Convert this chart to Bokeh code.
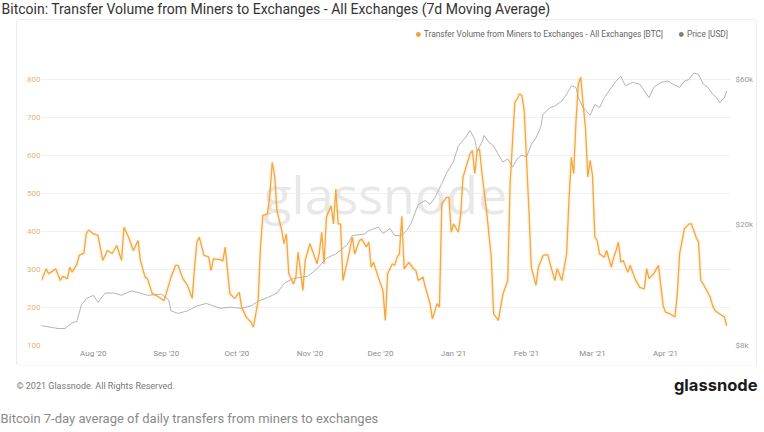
from datetime import datetime
import pandas as pd
from bokeh.plotting import figure
from bokeh.models import (Range1d, LogScale, LogAxis, FixedTicker, MonthsTicker,
                          DatetimeTickFormatter, Legend, LegendItem, Label, Spacer)
from bokeh.layouts import column, row
from bokeh.embed import file_html
from bokeh.resources import INLINE
from bokeh.core.properties import value

# ---------------- data ----------------
title_text = "Bitcoin: Transfer Volume from Miners to Exchanges - All Exchanges (7d Moving Average)"
caption_text = "Bitcoin 7-day average of daily transfers from miners to exchanges"
copyright_text = "\u00a9 2021 Glassnode. All Rights Reserved."
logo_text = "glassnode"
volume_label = "Transfer Volume from Miners to Exchanges - All Exchanges [BTC]"
price_label = "Price [USD]"

volume_dates = [
    "2020-07-10", "2020-07-12", "2020-07-13", "2020-07-15", "2020-07-16", "2020-07-18", "2020-07-19",
    "2020-07-21", "2020-07-22", "2020-07-23", "2020-07-25", "2020-07-26", "2020-07-28", "2020-07-29",
    "2020-07-30", "2020-08-01", "2020-08-03", "2020-08-05", "2020-08-07", "2020-08-09", "2020-08-11",
    "2020-08-13", "2020-08-14", "2020-08-16", "2020-08-18", "2020-08-20", "2020-08-21", "2020-08-23",
    "2020-08-24", "2020-08-26", "2020-08-29", "2020-08-31", "2020-09-01", "2020-09-03", "2020-09-05",
    "2020-09-06", "2020-09-08", "2020-09-10", "2020-09-12", "2020-09-13", "2020-09-14", "2020-09-15",
    "2020-09-17", "2020-09-19", "2020-09-20", "2020-09-21", "2020-09-24", "2020-09-25", "2020-09-26",
    "2020-09-28", "2020-09-30", "2020-10-02", "2020-10-03", "2020-10-05", "2020-10-07", "2020-10-08",
    "2020-10-10", "2020-10-11", "2020-10-12", "2020-10-14", "2020-10-15", "2020-10-16", "2020-10-17",
    "2020-10-18", "2020-10-20", "2020-10-21", "2020-10-22", "2020-10-23", "2020-10-25", "2020-10-26",
    "2020-10-27", "2020-10-29", "2020-10-30", "2020-11-01", "2020-11-04", "2020-11-05", "2020-11-06",
    "2020-11-07", "2020-11-08", "2020-11-10", "2020-11-11", "2020-11-12", "2020-11-13", "2020-11-14",
    "2020-11-15", "2020-11-17", "2020-11-19", "2020-11-20", "2020-11-21", "2020-11-22", "2020-11-23",
    "2020-11-25", "2020-11-26", "2020-11-27", "2020-11-28", "2020-11-30", "2020-12-02", "2020-12-03",
    "2020-12-04", "2020-12-06", "2020-12-07", "2020-12-08", "2020-12-09", "2020-12-10", "2020-12-11",
    "2020-12-13", "2020-12-15", "2020-12-16", "2020-12-17", "2020-12-19", "2020-12-20", "2020-12-21",
    "2020-12-22", "2020-12-23", "2020-12-25", "2020-12-26", "2020-12-27", "2020-12-29", "2020-12-30",
    "2020-12-31", "2021-01-01", "2021-01-03", "2021-01-04", "2021-01-05", "2021-01-08", "2021-01-09",
    "2021-01-10", "2021-01-11", "2021-01-12", "2021-01-13", "2021-01-15", "2021-01-17", "2021-01-18",
    "2021-01-20", "2021-01-21", "2021-01-22", "2021-01-24", "2021-01-25", "2021-01-27", "2021-01-28",
    "2021-01-29", "2021-01-30", "2021-01-31", "2021-02-01", "2021-02-02", "2021-02-03", "2021-02-05",
    "2021-02-06", "2021-02-08", "2021-02-10", "2021-02-11", "2021-02-13", "2021-02-14", "2021-02-16",
    "2021-02-18", "2021-02-19", "2021-02-20", "2021-02-21", "2021-02-22", "2021-02-23", "2021-02-24",
    "2021-02-25", "2021-02-26", "2021-02-27", "2021-02-28", "2021-03-01", "2021-03-02", "2021-03-03",
    "2021-03-04", "2021-03-06", "2021-03-07", "2021-03-09", "2021-03-10", "2021-03-11", "2021-03-12",
    "2021-03-13", "2021-03-14", "2021-03-16", "2021-03-17", "2021-03-19", "2021-03-21", "2021-03-23",
    "2021-03-24", "2021-03-25", "2021-03-27", "2021-03-29", "2021-03-31", "2021-04-01", "2021-04-03",
    "2021-04-05", "2021-04-06", "2021-04-07", "2021-04-09", "2021-04-11", "2021-04-12", "2021-04-14",
    "2021-04-15", "2021-04-16", "2021-04-17", "2021-04-20", "2021-04-21", "2021-04-22", "2021-04-24",
    "2021-04-26", "2021-04-27",
]
volume_btc = [
    271, 302, 289, 297, 302, 271, 282,
    276, 306, 293, 313, 337, 343, 394,
    404, 394, 390, 324, 350, 342, 363,
    324, 411, 385, 350, 376, 324, 280,
    276, 237, 227, 218, 237, 280, 311,
    311, 276, 258, 224, 306, 372, 385,
    337, 333, 297, 328, 326, 322, 359,
    236, 224, 240, 201, 174, 161, 148,
    218, 359, 442, 447, 499, 582, 547,
    455, 403, 368, 394, 289, 262, 280,
    345, 245, 324, 368, 315, 345, 398,
    315, 438, 468, 420, 512, 420, 420,
    271, 324, 385, 341, 359, 376, 380,
    359, 372, 306, 319, 280, 245, 166,
    289, 315, 311, 332, 341, 440, 302,
    319, 302, 297, 271, 280, 253, 232,
    210, 170, 210, 201, 473, 490, 490,
    398, 420, 398, 442, 543, 604, 613,
    552, 613, 617, 556, 455, 332, 183,
    166, 201, 236, 271, 525, 740, 749,
    762, 758, 718, 587, 455, 306, 258,
    306, 337, 339, 315, 271, 302, 271,
    341, 482, 595, 552, 692, 789, 806,
    736, 674, 543, 587, 547, 385, 376,
    341, 332, 350, 306, 332, 350, 372,
    319, 324, 293, 311, 276, 253, 249,
    302, 276, 289, 311, 205, 188, 183,
    175, 236, 341, 407, 420, 420, 385,
    372, 271, 262, 227, 205, 192, 183,
    175, 152,
]

price_dates = [
    "2020-07-10", "2020-07-17", "2020-07-20", "2020-07-23", "2020-07-25", "2020-07-27", "2020-07-29",
    "2020-08-01", "2020-08-03", "2020-08-06", "2020-08-10", "2020-08-13", "2020-08-17", "2020-08-21",
    "2020-08-24", "2020-08-30", "2020-09-02", "2020-09-03", "2020-09-06", "2020-09-10", "2020-09-14",
    "2020-09-18", "2020-09-24", "2020-09-28", "2020-10-03", "2020-10-07", "2020-10-10", "2020-10-14",
    "2020-10-18", "2020-10-21", "2020-10-25", "2020-10-31", "2020-11-04", "2020-11-08", "2020-11-12",
    "2020-11-17", "2020-11-19", "2020-11-24", "2020-11-26", "2020-11-30", "2020-12-02", "2020-12-05",
    "2020-12-07", "2020-12-10", "2020-12-12", "2020-12-14", "2020-12-17", "2020-12-20", "2020-12-22",
    "2020-12-24", "2020-12-27", "2020-12-29", "2021-01-01", "2021-01-03", "2021-01-06", "2021-01-08",
    "2021-01-10", "2021-01-11", "2021-01-13", "2021-01-14", "2021-01-16", "2021-01-18", "2021-01-20",
    "2021-01-22", "2021-01-24", "2021-01-26", "2021-01-28", "2021-01-30", "2021-02-01", "2021-02-03",
    "2021-02-05", "2021-02-07", "2021-02-08", "2021-02-11", "2021-02-13", "2021-02-16", "2021-02-18",
    "2021-02-20", "2021-02-22", "2021-02-23", "2021-02-25", "2021-02-28", "2021-03-02", "2021-03-04",
    "2021-03-06", "2021-03-09", "2021-03-11", "2021-03-13", "2021-03-15", "2021-03-18", "2021-03-21",
    "2021-03-23", "2021-03-25", "2021-03-27", "2021-03-30", "2021-04-02", "2021-04-04", "2021-04-07",
    "2021-04-09", "2021-04-11", "2021-04-13", "2021-04-15", "2021-04-17", "2021-04-19", "2021-04-21",
    "2021-04-23", "2021-04-24", "2021-04-26", "2021-04-27",
]
price_usd = [
    9300, 9100, 9100, 9500, 9600, 10900, 11400,
    11700, 11100, 11900, 11900, 11700, 12100, 11900,
    11700, 11800, 11300, 10400, 10200, 10400, 10800,
    11000, 10600, 10700, 10600, 10800, 11200, 11500,
    11900, 12800, 13300, 13500, 14300, 15500, 16000,
    17200, 18400, 18600, 19100, 19600, 18700, 19400,
    18400, 18400, 19100, 20200, 23300, 24000, 23300,
    24500, 27300, 29500, 32300, 36300, 38600, 40800,
    38100, 34900, 37300, 39300, 37300, 36300, 34000,
    32100, 32900, 30900, 32900, 33800, 33400, 36700,
    38600, 41800, 46100, 48500, 49100, 51000, 53700,
    57200, 56500, 52300, 48500, 45800, 49700, 48500,
    52300, 56500, 59300, 61500, 57200, 58700, 58000,
    55100, 52300, 56500, 58700, 59300, 58000, 56500,
    59300, 60000, 63000, 62400, 58000, 56500, 53700,
    52000, 50300, 52300, 55100,
]

btc_ticks = [100, 200, 300, 400, 500, 600, 700, 800]
price_ticks = [8000, 20000, 60000]
price_tick_labels = ["$8k", "$20k", "$60k"]

vol_x = pd.to_datetime(volume_dates)
price_x = pd.to_datetime(price_dates)

ORANGE = "#f3a73c"
GREY_LINE = "#ababab"
FONT = "Roboto"

# ---------------- title strip ----------------
top = figure(width=764, height=20, x_range=Range1d(0, 764), y_range=Range1d(20, 0),
             x_axis_location=None, y_axis_location=None, min_border=0,
             toolbar_location=None, output_backend="svg", outline_line_color=None)
top.grid.visible = False
top.text(x=[1], y=[8], text=[title_text], text_baseline="middle", text_align="left",
         text_font=value(FONT), text_font_size="14px", text_color="#333333")

# ---------------- chart card ----------------
p = figure(width=739, height=345, x_axis_type="datetime",
           x_range=Range1d(datetime(2020, 7, 10), datetime(2021, 4, 28, 14, 24)),
           y_range=Range1d(100, 939.5),
           min_border_left=24, min_border_right=25, min_border_top=6, min_border_bottom=20,
           toolbar_location=None, output_backend="svg", outline_line_color=None,
           styles={"box-shadow": "0 0 0 1px #ececec", "border-radius": "3px"})
p.extra_y_ranges = {"price": Range1d(8000, 89660), "proxy": Range1d(-2, -1)}
p.extra_y_scales = {"price": LogScale()}

p.xgrid.visible = False
p.ygrid.ticker = FixedTicker(ticks=btc_ticks)
p.ygrid.grid_line_color = "#f1f1f1"

# left axis (BTC)
ya = p.yaxis[0]
ya.ticker = FixedTicker(ticks=btc_ticks)
ya.axis_line_color = None
ya.major_tick_line_color = None
ya.minor_tick_line_color = None
ya.major_tick_out = 0
ya.minor_tick_out = 0
ya.major_label_standoff = 1
ya.major_label_text_font = FONT
ya.major_label_text_font_size = "8px"
ya.major_label_text_color = "#dfb57a"

# right axis (price, log)
ra = LogAxis(y_range_name="price", ticker=FixedTicker(ticks=price_ticks),
             major_label_overrides={t: l for t, l in zip(price_ticks, price_tick_labels)})
ra.axis_line_color = None
ra.major_tick_line_color = None
ra.minor_tick_line_color = None
ra.major_tick_out = 0
ra.minor_tick_out = 0
ra.major_label_standoff = 5
ra.major_label_text_font = FONT
ra.major_label_text_font_size = "8px"
ra.major_label_text_color = "#9a9a9a"
p.add_layout(ra, "right")

# x axis
xa = p.xaxis[0]
xa.ticker = MonthsTicker(months=list(range(12)))
xa.formatter = DatetimeTickFormatter(months="%b '%y", days="%b '%y")
xa.axis_line_color = None
xa.major_tick_line_color = None
xa.minor_tick_line_color = None
xa.major_tick_out = 0
xa.minor_tick_out = 0
xa.major_label_standoff = 3
xa.major_label_text_font = FONT
xa.major_label_text_font_size = "8px"
xa.major_label_text_color = "#8c8c8c"

# watermark
wm = Label(x=datetime(2020, 12, 3), y=500, text="glassnode", text_align="center",
           text_baseline="middle", text_font="Open Sans", text_font_size="52px",
           text_color="#e8e8e8", level="underlay")
p.add_layout(wm)

# series
p.line(price_x, price_usd, y_range_name="price", line_color=GREY_LINE, line_width=0.9)
p.line(vol_x, volume_btc, line_color=ORANGE, line_width=4, line_alpha=0.12)
p.line(vol_x, volume_btc, line_color=ORANGE, line_width=1.3)

# legend proxies: dot markers mapped on a range where they fall outside the frame
r_vol = p.scatter(vol_x[:1], volume_btc[:1], y_range_name="proxy", marker="circle", size=7,
                  fill_color="#eda33a", line_color=None)
r_price = p.scatter(price_x[:1], price_usd[:1], y_range_name="proxy", marker="circle", size=7,
                    fill_color="#7d7d7d", line_color=None)
legend = Legend(items=[LegendItem(label=volume_label, renderers=[r_vol]),
                       LegendItem(label=price_label, renderers=[r_price])],
                orientation="horizontal", location="top_right", margin=2, padding=0,
                spacing=12, glyph_width=12, glyph_height=12, label_height=12, label_standoff=0,
                label_text_font=FONT, label_text_font_size="8.3px", label_text_color="#666666",
                background_fill_alpha=0, border_line_alpha=0)
p.add_layout(legend, "center")

# ---------------- footer ----------------
foot = figure(width=764, height=67, x_range=Range1d(0, 764), y_range=Range1d(67, 0),
              x_axis_location=None, y_axis_location=None, min_border=0,
              toolbar_location=None, output_backend="svg", outline_line_color=None)
foot.grid.visible = False
foot.text(x=[16], y=[20], text=[copyright_text], text_baseline="middle", text_align="left",
          text_font=value(FONT), text_font_size="9px", text_color="#777777")
foot.text(x=[757], y=[19], text=[logo_text], text_baseline="middle", text_align="right",
          text_font=value("Inter"), text_font_size="16.5px", text_font_style="bold",
          text_color="#1a1a1a")
foot.text(x=[0], y=[53], text=[caption_text], text_baseline="middle", text_align="left",
          text_font=value(FONT), text_font_size="13px", text_color="#8a8a8a")

layout = column(top, row(Spacer(width=17, height=345), p), foot)

open("out.html", "w").write(file_html(layout, INLINE))
